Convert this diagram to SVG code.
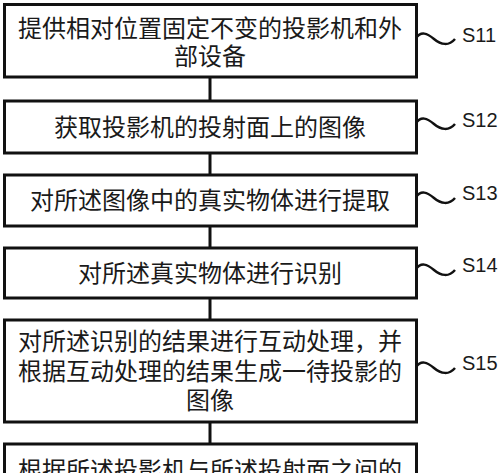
<svg xmlns="http://www.w3.org/2000/svg" width="500" height="473" viewBox="0 0 500 473">
<style>
.box{fill:#fff;stroke:#111;stroke-width:3}
.t{font-family:"Noto Sans CJK SC","Noto Sans",sans-serif;font-size:24px;fill:#1a1a1a;text-anchor:middle}
.lbl{font-family:"Liberation Sans",Arial,sans-serif;font-size:20px;fill:#1a1a1a}
.tl{fill:none;stroke:#111;stroke-width:2.5}
.c{stroke:#111;stroke-width:3}
</style>
<rect width="500" height="473" fill="#fff"/>
<g id="connectors">
<line class="c" x1="210" y1="77" x2="210" y2="101"/>
<line class="c" x1="210" y1="153" x2="210" y2="175"/>
<line class="c" x1="210" y1="226" x2="210" y2="248"/>
<line class="c" x1="210" y1="298" x2="210" y2="320"/>
<line class="c" x1="210" y1="422" x2="210" y2="444"/>
</g>
<g id="s11">
<rect class="box" x="4.5" y="4.5" width="412" height="72.5"/>
<text class="t" x="210" y="37">提供相对位置固定不变的投影机和外</text>
<text class="t" x="210" y="65">部设备</text>
<path class="tl" d="M416,38 C421,31 427,33 434,39 C441,45 449,46 455,39"/>
<text class="lbl" x="462" y="42">S11</text>
</g>
<g id="s12">
<rect class="box" x="4.5" y="101" width="412" height="52"/>
<text class="t" x="210" y="135.5">获取投影机的投射面上的图像</text>
<path class="tl" d="M416,123 C421,116 427,118 434,124 C441,130 449,131 455,124"/>
<text class="lbl" x="462" y="127">S12</text>
</g>
<g id="s13">
<rect class="box" x="4.5" y="175" width="412" height="51"/>
<text class="t" x="210" y="209">对所述图像中的真实物体进行提取</text>
<path class="tl" d="M416,197 C421,190 427,192 434,198 C441,204 449,205 455,198"/>
<text class="lbl" x="462" y="200">S13</text>
</g>
<g id="s14">
<rect class="box" x="4.5" y="248" width="412" height="50"/>
<text class="t" x="210" y="281.5">对所述真实物体进行识别</text>
<path class="tl" d="M416,269 C421,262 427,264 434,270 C441,276 449,277 455,270"/>
<text class="lbl" x="462" y="272">S14</text>
</g>
<g id="s15">
<rect class="box" x="4.5" y="320" width="412" height="102"/>
<text class="t" x="210" y="350">对所述识别的结果进行互动处理，并</text>
<text class="t" x="210" y="379.5">根据互动处理的结果生成一待投影的</text>
<text class="t" x="210" y="409">图像</text>
<path class="tl" d="M416,367 C421,360 427,362 434,368 C441,374 449,375 455,368"/>
<text class="lbl" x="462" y="370">S15</text>
</g>
<g id="s16">
<rect class="box" x="4.5" y="444" width="412" height="50"/>
<text class="t" x="210" y="479">根据所述投影机与所述投射面之间的</text>
</g>
</svg>
